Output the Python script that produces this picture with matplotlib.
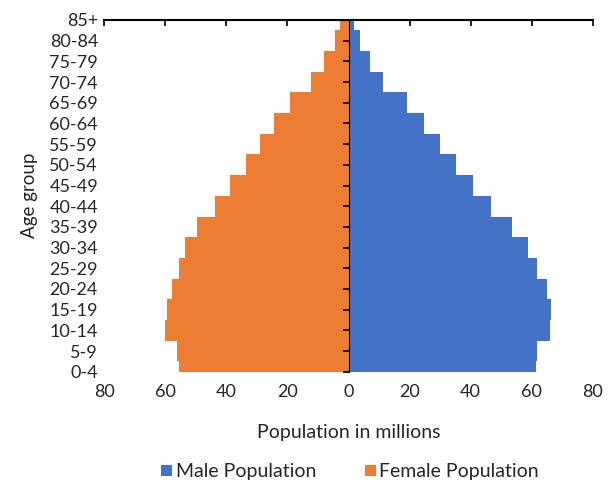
import matplotlib
matplotlib.use("Agg")
import matplotlib.pyplot as plt
import numpy as np

age_groups = ["0-4", "5-9", "10-14", "15-19", "20-24", "25-29", "30-34", "35-39",
              "40-44", "45-49", "50-54", "55-59", "60-64", "65-69", "70-74",
              "75-79", "80-84", "85+"]
male = [61.3, 61.6, 66.1, 66.5, 65.0, 61.9, 58.8, 53.7, 46.7, 40.7, 35.2, 30.0,
        24.8, 19.1, 11.3, 6.9, 3.8, 1.7]
female = [55.6, 56.3, 60.0, 59.4, 57.9, 55.5, 53.4, 49.6, 43.7, 38.8, 33.6, 29.1,
          24.3, 19.1, 12.3, 7.9, 4.5, 2.7]
x_ticks = [-80, -60, -40, -20, 0, 20, 40, 60, 80]

plt.rcParams['font.family'] = ['Lato', 'DejaVu Sans']
blue = "#4472C4"
orange = "#ED7D31"
txt = "#262626"

fig = plt.figure(figsize=(6.09, 4.82), dpi=100)
ax = fig.add_axes([104.3/609, 1-371.7/482, (592.7-104.3)/609, (371.7-20)/482])

y = np.arange(len(age_groups))
ax.barh(y, male, height=1.0, color=blue, label="Male Population", zorder=2)
ax.barh(y, [-v for v in female], height=1.0, color=orange, label="Female Population", zorder=2)

ax.set_xlim(-80, 80)
ax.set_ylim(0, len(age_groups) - 1)

for s in ["left", "right", "bottom"]:
    ax.spines[s].set_visible(False)
ax.spines["top"].set_linewidth(1.5)
ax.spines["top"].set_color("black")
ax.spines["top"].set_zorder(5)

ax.set_xticks(x_ticks)
ax.set_xticklabels([str(abs(v)) for v in x_ticks])
ax.tick_params(axis="x", bottom=False, top=True, labelbottom=True, labeltop=False,
               direction="in", length=4, width=1.2, color="black",
               labelsize=13, labelcolor=txt, pad=9)

ax.set_yticks(y)
ax.set_yticklabels(age_groups)
ax.tick_params(axis="y", left=False, right=False, labelsize=13, labelcolor=txt, pad=1)

sec = ax.secondary_yaxis(0.5)
sec.set_yticks(y)
sec.set_yticklabels([])
sec.yaxis.set_ticks_position("left")
sec.tick_params(axis="y", left=True, right=False, labelleft=False, labelright=False,
                direction="out", length=4, width=1.2, color="black")
sec.spines["left"].set_linewidth(1.5)
sec.spines["left"].set_color("black")
sec.set_zorder(5)

ax.set_xlabel("Population in millions", fontsize=14, color=txt, labelpad=17)
fig.text(30/609, 1-195/482, "Age group", rotation=90, fontsize=13.5, color=txt,
         ha="center", va="center")

handles, labels = ax.get_legend_handles_labels()
fig.legend(handles, labels, loc="center", bbox_to_anchor=(0.575, 1-472/482), ncol=2,
           frameon=False, fontsize=14, handlelength=0.55, handleheight=0.55,
           handletextpad=0.2, columnspacing=2.5, labelcolor=txt)

fig.savefig("out.png", dpi=100)
